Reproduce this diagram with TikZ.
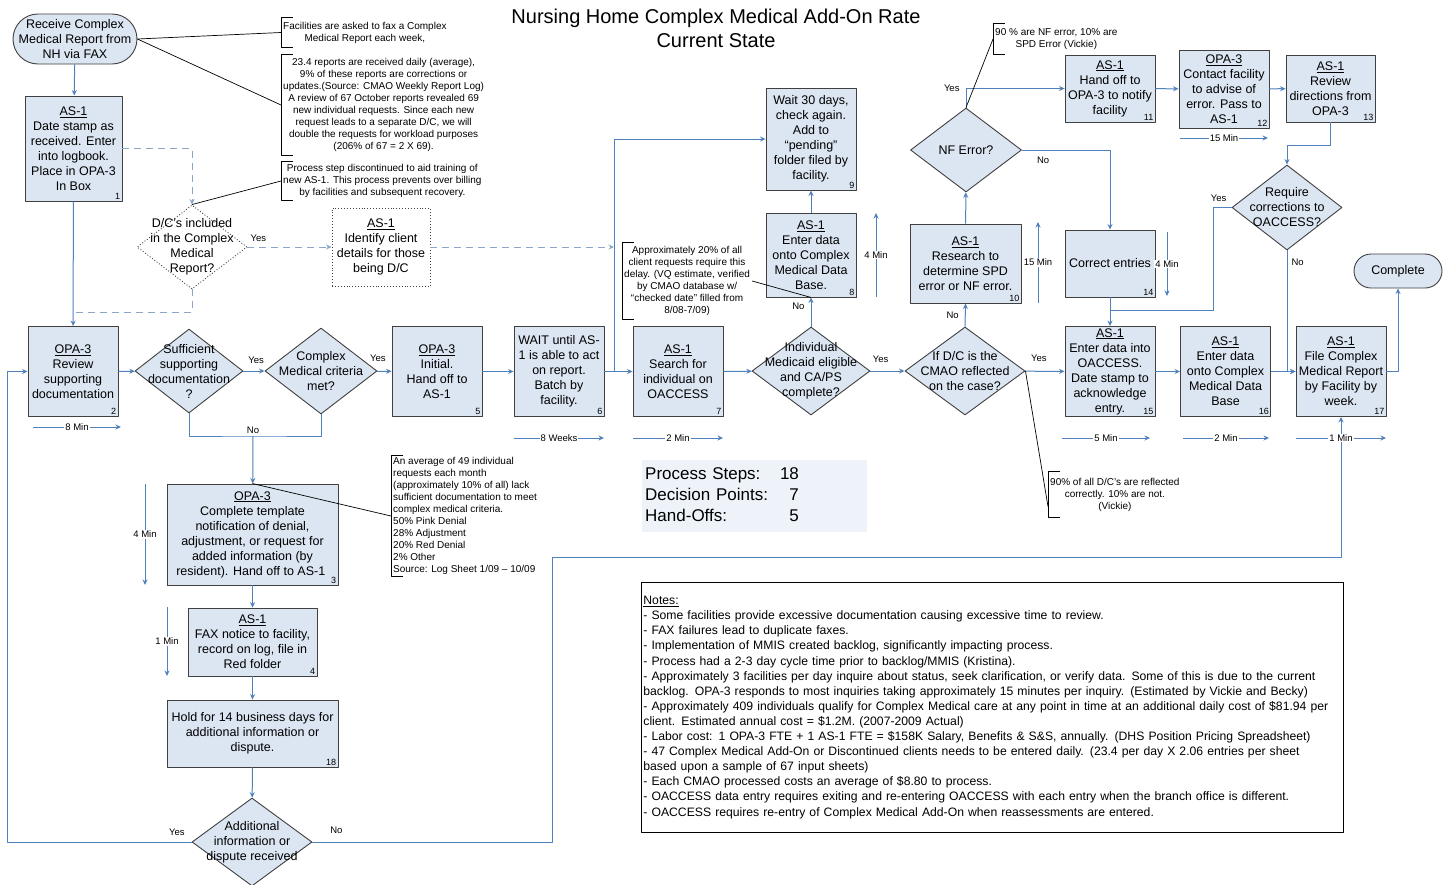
\documentclass[tikz,border=0pt]{standalone}
\usepackage{fontspec}
\setmainfont{Liberation Sans}
\usetikzlibrary{shapes.geometric,arrows.meta}
\definecolor{boxfill}{HTML}{DCE6F2}
\definecolor{boxline}{HTML}{404040}
\definecolor{flowblue}{HTML}{4F81BD}
\definecolor{dashblue}{HTML}{8DA6C8}
\definecolor{statfill}{HTML}{EEF3FA}
\newcommand{\rolename}[1]{\underline{#1}\\}

\begin{document}
\begin{tikzpicture}[x=1pt,y=-1pt,line join=round,>={Stealth[length=5.5pt,width=5pt]},
	proc/.style={draw=boxline,fill=boxfill,line width=0.9pt,align=center,inner sep=1pt,font=\fontsize{12.5}{15}\selectfont,minimum width=90pt,minimum height=90pt},
	term/.style={proc,rounded corners=17pt},
	dec/.style={diamond,draw=boxline,fill=boxfill,line width=0.9pt,inner sep=0pt},
	dtext/.style={align=center,font=\fontsize{12.5}{15}\selectfont,inner sep=0pt},
	num/.style={anchor=south east,inner sep=2pt,font=\fontsize{9}{9}\selectfont},
	flow/.style={draw=flowblue,line width=1pt,->},
	link/.style={draw=flowblue,line width=1pt},
	dflow/.style={draw=dashblue,line width=1pt,dash pattern=on 7pt off 5pt},
	lbl/.style={font=\fontsize{9.5}{11}\selectfont,inner sep=2pt},
	callout/.style={draw=black,line width=0.7pt},
	bracket/.style={draw=black,line width=0.8pt},
	note/.style={anchor=west,align=center,inner sep=2pt,font=\fontsize{10}{12}\selectfont},
	tlbl/.style={fill=white,inner sep=1pt,font=\fontsize{9.5}{11}\selectfont}]
	\def\notebracket#1{\draw[bracket] ([xshift=12pt]#1.north west) -| (#1.south west) -- ++(12pt,0);}
	\fill[white] (0,0) rectangle (1450,884);
	\useasboundingbox (0,0) rectangle (1450,884);
	\node[font=\fontsize{20}{24}\selectfont,align=center] (title) at (716,28) {Nursing Home Complex Medical Add-On Rate\\Current State};
	% top left
	\node[term,minimum width=124pt,minimum height=50pt,rounded corners=25pt] (start) at (75,39) {Receive Complex\\Medical Report from\\NH via FAX};
	\node[proc,minimum width=97pt,minimum height=105pt] (b1) at (73.5,148.5) {\rolename{AS-1}Date stamp as\\received.  Enter\\into logbook.\\Place in OPA-3\\In Box};
	\node[dec,fill=none,dotted,minimum width=110pt,minimum height=84pt] (d0) at (192,247) {};
	\node[dtext] (d0t) at (d0) {D/C's included\\in the Complex\\Medical\\Report?};
	\node[proc,fill=none,dotted,minimum width=98pt,minimum height=78pt] (b0) at (381,247) {\rolename{AS-1}Identify client\\details for those\\being D/C};
	% main row
	\node[proc] (b2) at (73,371.5) {\rolename{OPA-3}Review\\supporting\\documentation};
	\node[dec,minimum width=108pt,minimum height=84pt] (d1) at (189,371) {};
	\node[dtext] (d1t) at (d1) {Sufficient\\supporting\\documentation\\?};
	\node[dec,minimum width=112pt,minimum height=86pt] (d2) at (321,371) {};
	\node[dtext] (d2t) at (d2) {Complex\\Medical criteria\\met?};
	\node[proc] (b5) at (437,371.5) {\rolename{OPA-3}Initial.\\Hand off to\\AS-1};
	\node[proc] (b6) at (559,371.5) {WAIT until AS-\\1 is able to act\\on report.\\Batch by\\facility.};
	\node[proc] (b7) at (678,371.5) {\rolename{AS-1}Search for\\individual on\\OACCESS};
	\node[dec,minimum width=118pt,minimum height=88pt] (d3) at (811,371) {};
	\node[dtext] (d3t) at (d3) {Individual\\Medicaid eligible\\and CA/PS\\complete?};
	\node[dec,minimum width=120pt,minimum height=88pt] (d4) at (965,371) {};
	\node[dtext] (d4t) at (d4) {If D/C is the\\CMAO reflected\\on the case?};
	\node[proc] (b15) at (1110,371.5) {\rolename{AS-1}Enter data into\\OACCESS.\\Date stamp to\\acknowledge\\entry.};
	\node[proc] (b16) at (1225.5,371.5) {\rolename{AS-1}Enter data\\onto Complex\\Medical Data\\Base};
	\node[proc] (b17) at (1341,371.5) {\rolename{AS-1}File Complex\\Medical Report\\by Facility by\\week.};
	\node[term,minimum width=88pt,minimum height=34pt] (comp) at (1398,271) {Complete};
	% upper branch
	\node[proc,minimum height=84pt] (b8) at (811,255) {\rolename{AS-1}Enter data\\onto Complex\\Medical Data\\Base.};
	\node[proc,minimum height=102pt] (b9) at (811,139) {Wait 30 days,\\check again.\\Add to\\“pending”\\folder filed by\\facility.};
	\node[proc,minimum width=111pt,minimum height=79pt] (b10) at (965.5,263.5) {\rolename{AS-1}Research to\\determine SPD\\error or NF error.};
	\node[dec,minimum width=111pt,minimum height=84pt] (d5) at (966,150) {};
	\node[dtext] (d5t) at (d5) {NF Error?};
	\node[proc,minimum height=67pt] (b11) at (1110,88.5) {\rolename{AS-1}Hand off to\\OPA-3 to notify\\facility};
	\node[proc,minimum height=78pt] (b12) at (1224,89) {\rolename{OPA-3}Contact facility\\to advise of\\error. Pass to\\AS-1};
	\node[proc,minimum width=89pt,minimum height=67pt] (b13) at (1330.5,88.5) {\rolename{AS-1}Review\\directions from\\OPA-3};
	\node[dec,minimum width=110pt,minimum height=85pt] (d6) at (1287,207.5) {};
	\node[dtext] (d6t) at (d6) {Require\\corrections to\\OACCESS?};
	\node[proc,minimum height=67pt] (b14) at (1110,263.5) {Correct entries};
	% lower branch
	\node[proc,minimum width=171pt,minimum height=101pt] (b3) at (252.5,534.5) {\rolename{OPA-3}Complete template\\notification of denial,\\adjustment, or request for\\added information (by\\resident).  Hand off to AS-1\ \ };
	\node[proc,minimum width=129pt,minimum height=68pt] (b4) at (252.5,642) {\rolename{AS-1}FAX notice to facility,\\record on log, file in\\Red folder};
	\node[proc,minimum width=171pt,minimum height=67pt] (b18) at (252.5,733.5) {Hold for 14 business days for\\additional information or\\dispute.};
	\node[dec,minimum width=120pt,minimum height=88pt] (d7) at (252,842) {};
	\node[dtext] (d7t) at (d7) {Additional\\information or\\dispute received};
	% step numbers
	\node[num] (b1n) at (b1.south east) {1};
	\node[num] (b2n) at (b2.south east) {2};
	\node[num] (b3n) at (b3.south east) {3};
	\node[num] (b4n) at (b4.south east) {4};
	\node[num] (b5n) at (b5.south east) {5};
	\node[num] (b6n) at (b6.south east) {6};
	\node[num] (b7n) at (b7.south east) {7};
	\node[num] (b8n) at (b8.south east) {8};
	\node[num] (b9n) at (b9.south east) {9};
	\node[num] (b10n) at (b10.south east) {10};
	\node[num] (b11n) at (b11.south east) {11};
	\node[num] (b12n) at (b12.south east) {12};
	\node[num] (b13n) at (b13.south east) {13};
	\node[num] (b14n) at (b14.south east) {14};
	\node[num] (b15n) at (b15.south east) {15};
	\node[num] (b16n) at (b16.south east) {16};
	\node[num] (b17n) at (b17.south east) {17};
	\node[num] (b18n) at (b18.south east) {18};
	% notes
	\node[note,minimum height=29pt] (n1) at (281,32.5) {Facilities are asked to fax a Complex\\Medical Report each week,};
	\node[note,minimum height=100pt] (n2) at (281,105) {23.4 reports are received daily (average),\\9\% of these reports are corrections or\\updates.(Source: CMAO Weekly Report Log)\\A review of 67 October reports revealed 69\\new individual requests.  Since each new\\request leads to a separate D/C, we will\\double the requests for workload purposes\\(206\% of 67 = 2 X 69).};
	\node[note,minimum height=38pt] (n3) at (281,181) {Process step discontinued to aid training of\\new AS-1.  This process prevents over billing\\by facilities and subsequent recovery.};
	\node[note,minimum height=30pt] (n4) at (993,39) {90 \% are NF error, 10\% are\\SPD Error (Vickie)};
	\node[note,minimum height=76pt] (n5) at (622,281) {Approximately 20\% of all\\client requests require this\\delay. (VQ estimate, verified\\by CMAO database w/\\“checked date” filled from\\8/08-7/09)};
	\node[note,align=left,minimum height=120pt] (n6) at (391,516) {An average of 49 individual\\requests each month\\(approximately 10\% of all) lack\\sufficient documentation to meet\\complex medical criteria.\\50\% Pink Denial\\28\% Adjustment\\20\% Red Denial\\2\% Other\\Source: Log Sheet 1/09 – 10/09};
	\node[note,minimum height=45pt] (n7) at (1048,494.5) {90\% of all D/C's are reflected\\correctly.  10\% are not.\\(Vickie)};
	\notebracket{n1}
	\notebracket{n2}
	\notebracket{n3}
	\notebracket{n4}
	\notebracket{n5}
	\notebracket{n6}
	\notebracket{n7}
	\node[fill=statfill,anchor=north west,text width=219pt,minimum height=72pt,inner sep=3pt,font=\fontsize{17}{21}\selectfont] (stats) at (642,460) {\begin{tabular}{@{}l@{\hspace{12pt}}r@{}}Process Steps: & 18\\Decision Points: & 7\\Hand-Offs: & 5\end{tabular}};
	\node[draw=black,line width=0.8pt,anchor=north west,text width=698pt,minimum height=250pt,inner xsep=2pt,inner ysep=3pt,align=left,font=\fontsize{12.2}{15.1}\selectfont] (notes) at (641,582) {\underline{Notes:}\\- Some facilities provide excessive documentation causing excessive time to review.\\- FAX failures lead to duplicate faxes.\\- Implementation of MMIS created backlog, significantly impacting process.\\- Process had a 2-3 day cycle time prior to backlog/MMIS (Kristina).\\- Approximately 3 facilities per day inquire about status, seek clarification, or verify data.  Some of this is due to the current\\backlog.  OPA-3 responds to most inquiries taking approximately 15 minutes per inquiry. (Estimated by Vickie and Becky)\\- Approximately 409 individuals qualify for Complex Medical care at any point in time at an additional daily cost of \$81.94 per\\client.  Estimated annual cost = \$1.2M. (2007-2009 Actual)\\- Labor cost: 1 OPA-3 FTE + 1 AS-1 FTE = \$158K Salary, Benefits \& S\&S, annually. (DHS Position Pricing Spreadsheet)\\- 47 Complex Medical Add-On or Discontinued clients needs to be entered daily. (23.4 per day X 2.06 entries per sheet\\based upon a sample of 67 input sheets)\\- Each CMAO processed costs an average of \$8.80 to process.\\- OACCESS data entry requires exiting and re-entering OACCESS with each entry when the branch office is different.\\- OACCESS requires re-entry of Complex Medical Add-On when reassessments are entered.};
	% junctions
	\coordinate (j0) at (73,312);
	\coordinate (j1) at (614,247);
	\coordinate (j2) at (614,371.5);
	\coordinate (j3) at (253,436);
	\coordinate (j4) at (7,842);
	\coordinate (j6) at (552,557);
	\coordinate (j8) at (1213,310);
	\coordinate (j9) at (1110,310);
	% connectors
	\draw[flow] (start) -- (b1);
	\draw[flow] (b1) -- (b2);
	\draw[dflow,->] (b1.east) -| (d0.north);
	\draw[dflow,->] (d0.east) -- node[lbl,pos=0.13,above=3pt]{Yes} (b0.west);
	\draw[dflow] (d0.south) |- (j0);
	\draw[dflow,->] (b0.east) -- (j1);
	\draw[flow] (b2) -- (d1);
	\draw[flow] (d1) -- node[lbl,pos=0.6,above=5pt]{Yes} (d2);
	\draw[flow] (d2) -- node[lbl,pos=0.05,above=7pt]{Yes} (b5);
	\draw[flow] (b5) -- (b6);
	\draw[flow] (b6) -- (b7);
	\draw[flow] (b7) -- (d3);
	\draw[flow] (d3) -- node[lbl,pos=0.3,above=6pt]{Yes} (d4);
	\draw[flow] (d4) -- node[lbl,pos=0.35,above=7pt]{Yes} (b15);
	\draw[flow] (b15) -- (b16);
	\draw[flow] (b16) -- (b17);
	\draw[flow] (b17.east) -| (comp.south);
	\draw[link] (d1.south) |- (j3) -| (d2.south);
	\node[lbl,above] (no1) at (j3) {No};
	\draw[flow] (j3) -- (b3);
	\draw[flow] (b3) -- (b4);
	\draw[flow] (b4) -- (b18);
	\draw[flow] (b18) -- (d7);
	\draw[flow] (d7.west) -- node[lbl,pos=0.08,above=4pt]{Yes} (j4) |- (b2.west);
	\draw[flow] (d7.east) -| node[lbl,pos=0.05,above=6pt]{No} (j6) -| (b17.south);
	\draw[flow] (d3.north) -- node[lbl,pos=0.7,left=4pt]{No} (b8.south);
	\draw[flow] (b8) -- (b9);
	\draw[flow] (j2) |- (b9.west);
	\draw[flow] (d4.north) -- node[lbl,pos=0.5,left=4pt]{No} (b10.south);
	\draw[flow] (b10) -- (d5);
	\draw[flow] (d5.north) |- node[lbl,pos=0.5,left=4pt]{Yes} (b11.west);
	\draw[flow] (d5.east) -| node[lbl,pos=0.12,below=4pt]{No} (b14.north);
	\draw[flow] (b11) -- (b12);
	\draw[flow] (b12) -- (b13);
	\draw[flow] (b13.south) -- ++(0,23) -| (d6.north);
	\draw[link] (d6.west) -| node[lbl,pos=0.35,above=3pt]{Yes} (j8) -- (j9);
	\draw[flow] (b14) -- (b15);
	\draw[flow] (d6.south) |- node[lbl,pos=0.05,right=2pt]{No} (b17.west);
	% callouts
	\draw[callout] (start.east) -- (n1.west);
	\draw[callout] (start.east) -- (n2.west);
	\draw[callout] (n3.west) -- (d0.north);
	\draw[callout] (d5.north) -- (n4.west);
	\draw[callout] (n5.east) -- (b8.south);
	\draw[callout] (b3.north) -- (n6.west);
	\draw[callout] (d4.east) -- ([yshift=-12pt]n7.west);
	% times
	\draw[flow] (33,427) -- node[tlbl]{8 Min} (121,427);
	\draw[flow] (514,438) -- node[tlbl]{8 Weeks} (604,438);
	\draw[flow] (633,438) -- node[tlbl]{2 Min} (723,438);
	\draw[flow] (1062,438) -- node[tlbl]{5 Min} (1150,438);
	\draw[flow] (1183,438) -- node[tlbl]{2 Min} (1269,438);
	\draw[flow] (1296,438) -- node[tlbl]{1 Min} (1386,438);
	\draw[flow] (1180,138) -- node[tlbl]{15 Min} (1268,138);
	\draw[flow] (876,297) -- node[tlbl]{4 Min} (876,213);
	\draw[flow] (1038,303) -- node[tlbl]{15 Min} (1038,222);
	\draw[flow] (1167,232) -- node[tlbl]{4 Min} (1167,296);
	\draw[flow] (145,484) -- node[tlbl]{4 Min} (145,585);
	\draw[flow] (167,607) -- node[tlbl]{1 Min} (167,676);
\end{tikzpicture}
\end{document}
